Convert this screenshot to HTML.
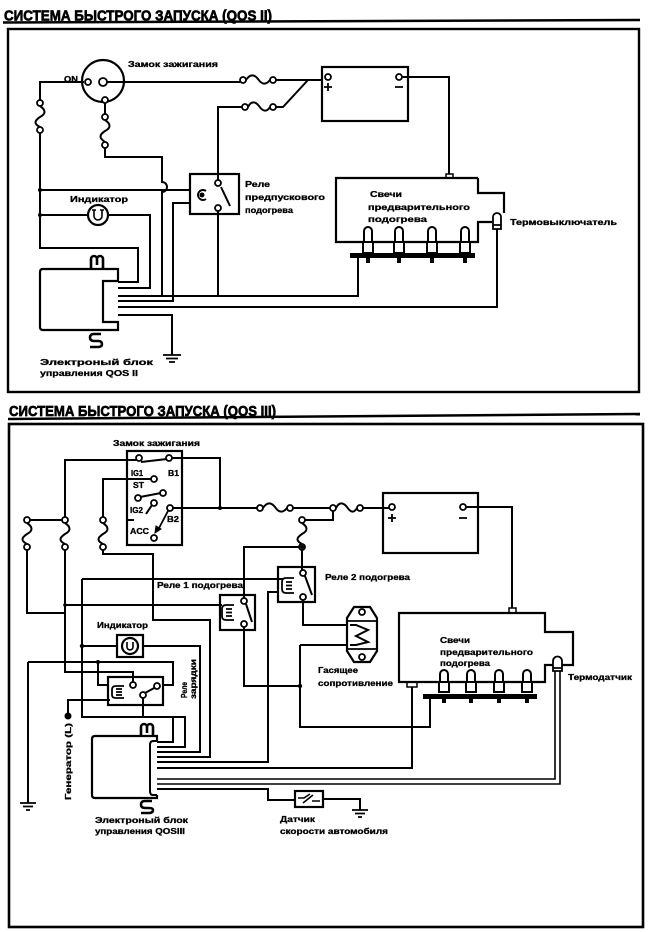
<!DOCTYPE html>
<html><head><meta charset="utf-8">
<style>
html,body{margin:0;padding:0;background:#fff;}
svg{display:block;}
text{font-family:"Liberation Sans","Noto Sans CJK SC",sans-serif;font-weight:bold;fill:#000;stroke:#000;stroke-width:0.3;}
text.t{stroke-width:0.7;}
</style></head><body>
<svg width="650" height="932" viewBox="0 0 650 932" xmlns="http://www.w3.org/2000/svg">
<rect width="650" height="932" fill="#fff"/>

<!-- ================= TOP : QOS II ================= -->
<text class="t" x="4" y="20.5" font-size="15" textLength="268" lengthAdjust="spacingAndGlyphs">СИСТЕМА БЫСТРОГО ЗАПУСКА (QOS II)</text>
<g fill="none" stroke="#000" stroke-width="2">
<path d="M3,22.5 L640,20" stroke-width="2.5"/>
<rect x="8" y="29" width="631" height="363" stroke-width="2.4"/>

<!-- ignition switch -->
<circle cx="103" cy="81" r="21" stroke-width="2.2"/>
<!-- wires -->
<path d="M84,82 H40 V100"/>
<path d="M40,133 V248 H138 V282 H118"/>
<path d="M40,190 H190"/>
<path d="M40,215 H88"/>
<path d="M108,215 H150 V288 H118"/>
<path d="M105,103 V114"/>
<path d="M105,148 V157 H162 V182 A5,5 0 0 1 162,192 V296"/>
<path d="M118,296 H358 V258"/>
<path d="M190,203 H173 V301 H118"/>
<path d="M118,307 H497 V229"/>
<path d="M118,315 H172 V355"/>
<path d="M163,355 H181 M166,358.5 H178 M169,362 H175" stroke-width="1.8"/>
<path d="M218,180 V107 H242"/>
<path d="M276,107 H283 L308,80"/>
<path d="M107,82 H240"/>
<path d="M276,80 H322"/>
<path d="M402,77 H449 V174"/>
<path d="M218,211 V296"/>
<!-- fuses -->
<path d="M246,80 C250,74 254,74 258,79 C262,85 266,85 270,80"/>
<path d="M248,107 C251,101 255,101 259,106 C263,112 267,112 270,107"/>
<path d="M40,106 C46,110 46,114 40,117 C34,121 34,124 40,127"/>
<path d="M105,120 C111,124 111,128 105,131 C99,135 99,138 105,142"/>
<!-- indicator -->
<circle cx="98" cy="215" r="10" stroke-width="2.2" fill="#fff"/>
<path d="M94,210 V216 A4,4 0 0 0 102,216 V210 M92,210 H96 M100,210 H104" stroke-width="1.6"/>
<!-- relay -->
<rect x="190" y="174" width="49" height="40" stroke-width="2.2"/>
<path d="M206,191 A5,5 0 1 0 206,199" stroke-width="2"/>
<circle cx="202" cy="195" r="1.5" fill="#000"/>
<path d="M221,187 L230,206"/>
<!-- battery -->
<rect x="322" y="67" width="86" height="54" stroke-width="2.2"/>
<path d="M324,87 H332 M328,83 V91 M395,87 H403" stroke-width="1.8"/>
<rect x="446" y="174" width="7" height="4" stroke-width="1.5"/>
<!-- glow plug box -->
<path d="M478,178 H336 V242 H478 V222 H492" stroke-width="2.2"/>
<path d="M478,178 V193 H504 V213" stroke-width="2.2"/>
<path d="M493,229 V217 A4,4 0 0 1 501,217 V229 Z M493,225 H501" fill="#fff" stroke-width="1.8"/>
<!-- plugs -->
<g stroke-width="2" fill="#fff">
<path d="M364,242 V231 A4,4 0 0 1 372,231 V242"/><rect x="363" y="242" width="10" height="11"/>
<path d="M395,242 V231 A4,4 0 0 1 403,231 V242"/><rect x="394" y="242" width="10" height="11"/>
<path d="M428,242 V231 A4,4 0 0 1 436,231 V242"/><rect x="427" y="242" width="10" height="11"/>
<path d="M461,242 V231 A4,4 0 0 1 469,231 V242"/><rect x="460" y="242" width="10" height="11"/>
</g>
<rect x="350" y="253" width="125" height="5" fill="#000" stroke="none"/>
<rect x="366" y="257" width="4" height="6" fill="#000" stroke="none"/>
<rect x="397" y="257" width="4" height="6" fill="#000" stroke="none"/>
<rect x="430" y="257" width="4" height="6" fill="#000" stroke="none"/>
<rect x="463" y="257" width="4" height="6" fill="#000" stroke="none"/>
<!-- ECU -->
<path d="M43,269 H118 V281 H103 V322 H118 V330 H43 Q40,330 40,327 V272 Q40,269 43,269 Z" stroke-width="2.2"/>
<path d="M91,268 V259 A3,3 0 0 1 97,259 V265 M97,259 A3,3 0 0 1 103,259 V268" stroke-width="2.6"/>
<path d="M101,334 H94 Q90,334 90,337.5 Q90,341 94,341 H98 Q102,341 102,344 Q102,347 98,347 H90" stroke-width="2.6"/>
<!-- terminals -->
<g fill="#fff" stroke-width="1.8">
<circle cx="88" cy="82" r="3"/><circle cx="103" cy="82" r="4"/><circle cx="105" cy="100" r="3"/>
<circle cx="40" cy="103" r="3"/><circle cx="40" cy="130" r="3"/>
<circle cx="105" cy="117" r="3"/><circle cx="105" cy="145" r="3"/>
<circle cx="243" cy="80" r="3"/><circle cx="273" cy="80" r="3"/>
<circle cx="245" cy="107" r="3"/><circle cx="273" cy="107" r="3"/>
<circle cx="218" cy="183" r="3"/><circle cx="218" cy="208" r="3"/>
<circle cx="328" cy="77" r="3"/><circle cx="399" cy="77" r="3"/>
</g>
<g fill="#000" stroke="none">
<circle cx="40" cy="190" r="2"/><circle cx="40" cy="215" r="2"/>
</g>
</g>
<text x="64" y="82" font-size="8.5" textLength="14" lengthAdjust="spacingAndGlyphs">ON</text>
<text x="128" y="67" font-size="8.5" textLength="90" lengthAdjust="spacingAndGlyphs">Замок зажигания</text>
<text x="70" y="202" font-size="8.5" textLength="58" lengthAdjust="spacingAndGlyphs">Индикатор</text>
<text x="245" y="187" font-size="8.5" textLength="25" lengthAdjust="spacingAndGlyphs">Реле</text>
<text x="245" y="200" font-size="8.5" textLength="80" lengthAdjust="spacingAndGlyphs">предпускового</text>
<text x="245" y="213" font-size="8.5" textLength="48" lengthAdjust="spacingAndGlyphs">подогрева</text>
<text x="370" y="197" font-size="8.5" textLength="32" lengthAdjust="spacingAndGlyphs">Свечи</text>
<text x="368" y="210" font-size="8.5" textLength="102" lengthAdjust="spacingAndGlyphs">предварительного</text>
<text x="368" y="222" font-size="8.5" textLength="59" lengthAdjust="spacingAndGlyphs">подогрева</text>
<text x="510" y="225" font-size="8.5" textLength="107" lengthAdjust="spacingAndGlyphs">Термовыключатель</text>
<text x="40" y="365" font-size="8.5" textLength="113" lengthAdjust="spacingAndGlyphs">Электроный блок</text>
<text x="40" y="376" font-size="8.5" textLength="98" lengthAdjust="spacingAndGlyphs">управления QOS II</text>

<!-- ================= BOTTOM : QOS III ================= -->
<text class="t" x="9" y="416" font-size="15" textLength="267" lengthAdjust="spacingAndGlyphs">СИСТЕМА БЫСТРОГО ЗАПУСКА (QOS III)</text>
<g fill="none" stroke="#000" stroke-width="2">
<path d="M8,419 L640,414" stroke-width="2.5"/>
<rect x="9" y="424" width="634" height="503" stroke-width="2.6"/>

<!-- ignition box -->
<rect x="127" y="451" width="55" height="94" stroke-width="2.2"/>
<path d="M141,462 L167,459"/>
<path d="M140,497 L161,493"/>
<path d="M127,520 H134 M152,505 L146,514"/>
<path d="M168,511 L158,530" stroke-width="1.8"/>
<path d="M155,533 L156,526 L161,529 Z" fill="#000" stroke-width="1"/>
<!-- wires -->
<path d="M136,460 H65 V517"/>
<path d="M172,458 H220 V508"/>
<path d="M173,508 H257"/>
<path d="M293,508 H330"/>
<path d="M363,508 H389"/>
<path d="M30,520 H62"/>
<path d="M151,479 H103 V517"/>
<path d="M27,550 V613 H65"/>
<path d="M65,550 V672 H133 V682"/>
<path d="M65,605 H222"/>
<path d="M103,550 V554 H153 V620 H210 V757 H157"/>
<path d="M82,579 H283"/>
<path d="M82,579 V717 H173 V742 H157"/>
<path d="M82,646 H117"/>
<path d="M143,646 H200 V752 H157"/>
<path d="M143,698 V717 H185 V747 H157"/>
<path d="M28,662 H173 V685 H163"/>
<path d="M98,662 V685 H108"/>
<path d="M28,662 V803"/>
<path d="M20,803 H36 M23,806.5 H33 M26,810 H30" stroke-width="1.8"/>
<path d="M68,716 V700 H110"/>
<path d="M278,592 H268 V762 H157"/>
<path d="M244,598 V547 H299"/>
<path d="M302,550 V570"/>
<path d="M305,520 H333 V511"/>
<path d="M244,627 V686 H300"/>
<path d="M303,600 V625 H350"/>
<path d="M300,645 H347"/>
<path d="M300,645 V727 H430 V699"/>
<path d="M466,507 H512 V608"/>
<path d="M412,687 V768 H157"/>
<path d="M555,671 V779 H157" stroke-width="1.6"/>
<path d="M560,671 V784 H157" stroke-width="1.6"/>
<path d="M157,789 H268 V800 H295"/>
<path d="M323,799 H360 V810"/>
<path d="M352,810 H368 M355,813.5 H365 M358,817 H362" stroke-width="1.8"/>
<!-- fuses -->
<path d="M263,508 C267,502 271,502 275,507 C279,513 283,513 287,508"/>
<path d="M336,508 C339,502 343,502 347,507 C351,513 354,513 357,508"/>
<path d="M27,523 C33,527 33,531 27,534 C21,538 21,541 27,544"/>
<path d="M65,523 C71,527 71,531 65,534 C59,538 59,541 65,544"/>
<path d="M103,523 C109,527 109,531 103,534 C97,538 97,541 103,544"/>
<path d="M302,523 C308,527 308,531 302,534 C296,538 296,541 302,544"/>
<!-- relay 1 -->
<rect x="220" y="595" width="35" height="35" stroke-width="2.2"/>
<path d="M234,605 H226 Q222,605 222,609 V616 Q222,620 226,620 H234 M226,609 H232 M226,612.5 H232 M226,616 H232" stroke-width="1.8"/>
<path d="M246,604 L252,622"/>
<!-- relay 2 -->
<rect x="278" y="567" width="37" height="35" stroke-width="2.2"/>
<path d="M294,578 H286 Q282,578 282,582 V589 Q282,593 286,593 H294 M286,582 H292 M286,585.5 H292 M286,589 H292" stroke-width="1.8"/>
<path d="M305,576 L312,595"/>
<!-- resistor -->
<path d="M354,607 H370 L377,618 V651 L370,662 H354 L347,651 V618 Z" stroke-width="2.2" fill="#fff"/>
<path d="M347,621 H377 M347,649 H377" stroke-width="1.8"/>
<path d="M350,625 H356 L368,630 L356,636 L368,642 L356,645 H350" stroke-width="2"/>
<!-- indicator -->
<rect x="117" y="635" width="26" height="22" stroke-width="2.2" fill="#fff"/>
<circle cx="130" cy="646" r="8" stroke-width="2.2"/>
<path d="M127,642 V647 A3,3 0 0 0 133,647 V642" stroke-width="1.6"/>
<!-- charge relay -->
<rect x="108" y="677" width="55" height="28" stroke-width="2.2"/>
<path d="M124,686 H116 Q112,686 112,689.5 V695 Q112,698 116,698 H124 M116,689 H122 M116,692 H122 M116,695 H122" stroke-width="1.8"/>
<path d="M145,693 L156,687"/>
<circle cx="68" cy="716" r="2.5" fill="#000"/>
<!-- battery -->
<rect x="383" y="493" width="95" height="60" stroke-width="2.2"/>
<path d="M388,518 H396 M392,514 V522 M459,518 H467" stroke-width="1.8"/>
<!-- glow plug box -->
<path d="M399,613 H545 V632 H573 V665 H545 V682 H399 Z" stroke-width="2.2"/>
<rect x="509" y="608" width="7" height="5" stroke-width="1.5"/>
<rect x="407" y="682" width="10" height="5" stroke-width="1.5"/>
<path d="M553,671 V661 A4.5,4.5 0 0 1 562,661 V671 Z M553,668 H562" fill="#fff" stroke-width="1.8"/>
<g stroke-width="2" fill="#fff">
<path d="M440,682 V674 A4,4 0 0 1 448,674 V682"/><rect x="439" y="682" width="10" height="10"/>
<path d="M467,682 V674 A4,4 0 0 1 475,674 V682"/><rect x="466" y="682" width="10" height="10"/>
<path d="M495,682 V674 A4,4 0 0 1 503,674 V682"/><rect x="494" y="682" width="10" height="10"/>
<path d="M523,682 V674 A4,4 0 0 1 531,674 V682"/><rect x="522" y="682" width="10" height="10"/>
</g>
<rect x="423" y="694" width="114" height="5" fill="#000" stroke="none"/>
<rect x="442" y="698" width="4" height="5" fill="#000" stroke="none"/>
<rect x="469" y="698" width="4" height="5" fill="#000" stroke="none"/>
<rect x="497" y="698" width="4" height="5" fill="#000" stroke="none"/>
<rect x="525" y="698" width="4" height="5" fill="#000" stroke="none"/>
<!-- ECU -->
<path d="M157,741 V736 H95 Q92,736 92,739 V795 Q92,798 95,798 H157 V795" stroke-width="2.2"/>
<path d="M157,741 H153 Q150,741 150,745 V791 Q150,795 153,795 H157" stroke-width="2"/>
<path d="M141,736 V727 A3,3 0 0 1 147,727 V733 M147,727 A3,3 0 0 1 153,727 V736" stroke-width="2.6"/>
<path d="M152,801 H145 Q141,801 141,804.5 Q141,808 145,808 H149 Q153,808 153,810 Q153,813 149,813 H141" stroke-width="2.6"/>
<!-- speed sensor -->
<rect x="295" y="791" width="28" height="16" stroke-width="2.2"/>
<path d="M298,798 H304 L310,794 M312,801 H320 M303,803 L313,795" stroke-width="1.6"/>
<!-- terminals -->
<g fill="#fff" stroke-width="1.8">
<circle cx="139" cy="458" r="3"/><circle cx="169" cy="458" r="3"/>
<circle cx="154" cy="479" r="3"/>
<circle cx="138" cy="498" r="3"/><circle cx="163" cy="493" r="3"/>
<circle cx="154" cy="503" r="3"/><circle cx="170" cy="508" r="3"/>
<circle cx="154" cy="538" r="3"/>
<circle cx="260" cy="508" r="3"/><circle cx="290" cy="508" r="3"/>
<circle cx="333" cy="508" r="3"/><circle cx="360" cy="508" r="3"/>
<circle cx="27" cy="520" r="3"/><circle cx="27" cy="547" r="3"/>
<circle cx="65" cy="520" r="3"/><circle cx="65" cy="547" r="3"/>
<circle cx="103" cy="520" r="3"/><circle cx="103" cy="547" r="3"/>
<circle cx="302" cy="520" r="3"/><circle cx="302" cy="547" r="3"/>
<circle cx="244" cy="601" r="3"/><circle cx="244" cy="624" r="3"/>
<circle cx="303" cy="573" r="3"/><circle cx="303" cy="597" r="3"/>
<circle cx="362" cy="612" r="3"/><circle cx="362" cy="657" r="3"/>
<circle cx="133" cy="685" r="3"/><circle cx="143" cy="695" r="3"/><circle cx="157" cy="686" r="3"/>
<circle cx="392" cy="507" r="3"/><circle cx="463" cy="507" r="3"/>
</g>
<g fill="#000" stroke="none">
<circle cx="220" cy="508" r="2"/><circle cx="82" cy="646" r="2.2"/>
<circle cx="98" cy="662" r="2"/><circle cx="300" cy="686" r="2.2"/>
<circle cx="302" cy="547" r="2"/><circle cx="65" cy="605" r="1.8"/>
</g>
</g>
<text x="113" y="446" font-size="8.5" textLength="87" lengthAdjust="spacingAndGlyphs">Замок зажигания</text>
<text x="131" y="476" font-size="8" textLength="12" lengthAdjust="spacingAndGlyphs">IG1</text>
<text x="168" y="476" font-size="8" textLength="11" lengthAdjust="spacingAndGlyphs">B1</text>
<text x="133" y="488" font-size="8" textLength="11" lengthAdjust="spacingAndGlyphs">ST</text>
<text x="130" y="513" font-size="8" textLength="13" lengthAdjust="spacingAndGlyphs">IG2</text>
<text x="167" y="522" font-size="8" textLength="12" lengthAdjust="spacingAndGlyphs">B2</text>
<text x="130" y="534" font-size="8" textLength="19" lengthAdjust="spacingAndGlyphs">ACC</text>
<text x="157" y="588" font-size="8.5" textLength="86" lengthAdjust="spacingAndGlyphs">Реле 1 подогрева</text>
<text x="325" y="580" font-size="8.5" textLength="85" lengthAdjust="spacingAndGlyphs">Реле 2 подогрева</text>
<text x="97" y="628" font-size="8.5" textLength="51" lengthAdjust="spacingAndGlyphs">Индикатор</text>
<text x="318" y="673" font-size="8.5" textLength="40" lengthAdjust="spacingAndGlyphs">Гасящее</text>
<text x="318" y="686" font-size="8.5" textLength="75" lengthAdjust="spacingAndGlyphs">сопротивление</text>
<text x="440" y="643" font-size="8.5" textLength="30" lengthAdjust="spacingAndGlyphs">Свечи</text>
<text x="440" y="655" font-size="8.5" textLength="93" lengthAdjust="spacingAndGlyphs">предварительного</text>
<text x="440" y="666" font-size="8.5" textLength="50" lengthAdjust="spacingAndGlyphs">подогрева</text>
<text x="568" y="680" font-size="8.5" textLength="64" lengthAdjust="spacingAndGlyphs">Термодатчик</text>
<text transform="translate(187,698) rotate(-90)" font-size="8.5" textLength="16" lengthAdjust="spacingAndGlyphs">Реле</text>
<text transform="translate(196,699) rotate(-90)" font-size="8.5" textLength="40" lengthAdjust="spacingAndGlyphs">зарядки</text>
<text transform="translate(71,800) rotate(-90)" font-size="8.5" textLength="77" lengthAdjust="spacingAndGlyphs">Генератор (L)</text>
<text x="95" y="823" font-size="8.5" textLength="93" lengthAdjust="spacingAndGlyphs">Электроный блок</text>
<text x="95" y="834" font-size="8.5" textLength="90" lengthAdjust="spacingAndGlyphs">управления QOSIII</text>
<text x="280" y="822" font-size="8.5" textLength="35" lengthAdjust="spacingAndGlyphs">Датчик</text>
<text x="280" y="834" font-size="8.5" textLength="108" lengthAdjust="spacingAndGlyphs">скорости автомобиля</text>
</svg>
</body></html>
